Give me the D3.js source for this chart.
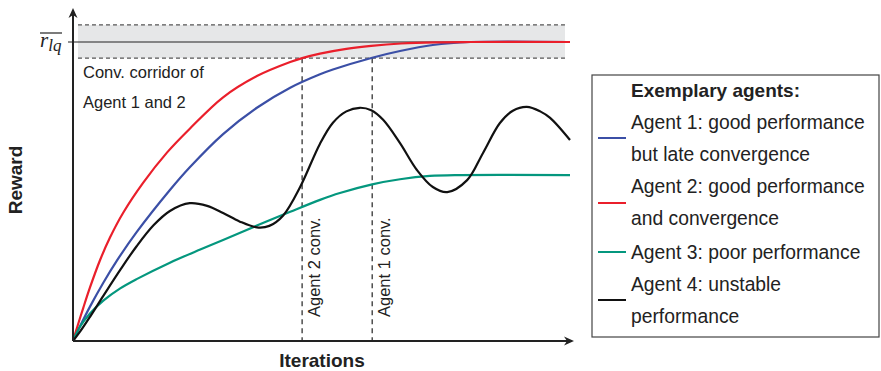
<!DOCTYPE html>
<html>
<head>
<meta charset="utf-8">
<script src="https://cdn.jsdelivr.net/npm/d3@7"></script>
<style>
  body { margin: 0; background: #fff; }
  svg { display: block; font-family: "Liberation Sans", Arial, sans-serif; }
</style>
</head>
<body>
<div class="chart"></div>
<script>
// data: x = iterations (0..100), y = reward (r_lq = 100)
var agent1 = [[0,0],[1.41,4.9],[3.42,11.5],[6.1,19.5],[8.8,26.8],[12.8,36.4],[19.5,50.5],[23.5,58.1],
  [30.2,69.2],[37,78],[43.7,84.7],[49.7,89.2],[52.3,90.8],[60.2,94.75],[65.8,97],[72.4,99],
  [79.9,100],[100,100]];
var agent2 = [[0,0],[0.74,4.1],[2.07,11.1],[3.42,17.9],[5.43,27],[7.44,34.6],[10.1,42.9],[14.1,52.9],
  [18.9,63],[23.5,71],[30.2,81.5],[37,88.6],[43.7,93.3],[46.1,94.6],[49.7,96.1],[55,97.7],
  [60,98.7],[66,99.5],[73,99.9],[80,100],[100,100]];
var agent3 = [[0,0],[1.41,4.8],[3.42,9.2],[6.1,13.5],[9.5,17.6],[12.8,20.7],[19.5,26.2],[25.6,30.6],
  [30.2,33.8],[37,38.6],[43.7,43.2],[49.7,47.2],[53.7,49.5],[60.2,52.4],[65.8,54.1],[71.8,55.2],
  [77.9,55.5],[100,55.5]];
var agent4 = [[0,0],[1.41,3.1],[3.42,8.1],[6.1,15.1],[9.5,23.8],[12.8,31.7],[16.2,38.7],[19.5,43.5],
  [23.5,46.1],[27,45.2],[30.2,42.8],[33.5,40],[37,38],[39.5,38.5],[42.3,42],[45.7,51.5],[49.7,66],
  [52.3,73],[55,76.8],[57.7,78],[60,77.2],[62.4,74],[65.8,66.2],[69.2,57.2],[72.4,51.5],[75.3,49.8],
  [79.3,53.8],[82.5,62.9],[85.9,72.9],[88.5,77],[91.3,78.3],[94,76.8],[96,74.6],[100,67.2]];

var rlq = 100;
var corridor = [94.6, 105.7];
var convAgent2 = 46.1, convAgent1 = 60.2;

var series = [
  {name: "agent1", values: agent1, color: "#3b4fa6"},
  {name: "agent2", values: agent2, color: "#ea1f2b"},
  {name: "agent3", values: agent3, color: "#04977e"},
  {name: "agent4", values: agent4, color: "#111111"}
];

var legendTitle = "Exemplary agents:";
var legendLines = ["Agent 1: good performance", "but late convergence",
  "Agent 2: good performance", "and convergence",
  "Agent 3: poor performance", "Agent 4: unstable", "performance"];
var legendColors = ["#3b4fa6", "#ea1f2b", "#04977e", "#111111"];

var width = 881, height = 371;

var svg = d3.select(".chart").append("svg")
    .attr("width", width)
    .attr("height", height);

var x = d3.scaleLinear().domain([0, 100]).range([73, 570]);
var y = d3.scaleLinear().domain([0, 100]).range([341, 42]);

var defs = svg.append("defs");
defs.append("marker")
    .attr("id", "arrow")
    .attr("viewBox", "0 0 10 10")
    .attr("refX", 8).attr("refY", 5)
    .attr("markerWidth", 5).attr("markerHeight", 5)
    .attr("markerUnits", "strokeWidth")
    .attr("orient", "auto")
  .append("path")
    .attr("d", "M0,0.5 L10,5 L0,9.5 L3,5 Z")
    .attr("fill", "#222");

// corridor band
svg.append("rect")
    .attr("x", x(1)).attr("y", y(corridor[1]))
    .attr("width", x(99) - x(1))
    .attr("height", y(corridor[0]) - y(corridor[1]))
    .attr("fill", "#e6e7e8");

svg.selectAll(".corr")
    .data(corridor)
    .enter().append("line")
    .attr("x1", x(1)).attr("x2", x(99))
    .attr("y1", function(d) { return y(d); })
    .attr("y2", function(d) { return y(d); })
    .attr("stroke", "#555")
    .attr("stroke-width", 1.3)
    .attr("stroke-dasharray", "4,3");

svg.append("line")
    .attr("x1", x(0) - 5).attr("x2", x(100))
    .attr("y1", y(rlq)).attr("y2", y(rlq))
    .attr("stroke", "#222").attr("stroke-width", 1.2);

// convergence markers
var conv = [{x: convAgent2, label: "Agent 2 conv."}, {x: convAgent1, label: "Agent 1 conv."}];
svg.selectAll(".conv")
    .data(conv)
    .enter().append("line")
    .attr("x1", function(d) { return x(d.x); })
    .attr("x2", function(d) { return x(d.x); })
    .attr("y1", y(corridor[0])).attr("y2", y(0))
    .attr("stroke", "#333")
    .attr("stroke-width", 1.3)
    .attr("stroke-dasharray", "5,4");

svg.selectAll(".convlabel")
    .data(conv)
    .enter().append("text")
    .attr("transform", function(d) { return "translate(" + (x(d.x) + 18) + "," + 317 + ") rotate(-90)"; })
    .attr("font-size", 16.5)
    .attr("fill", "#222")
    .text(function(d) { return d.label; });

svg.append("text").attr("x", 83).attr("y", 78).attr("font-size", 16.5).attr("fill", "#222")
    .text("Conv. corridor of");
svg.append("text").attr("x", 83).attr("y", 108).attr("font-size", 16.5).attr("fill", "#222")
    .text("Agent 1 and 2");

// curves
var line = d3.line()
    .x(function(d) { return x(d[0]); })
    .y(function(d) { return y(d[1]); })
    .curve(d3.curveCatmullRom.alpha(0.5));

svg.selectAll(".agent")
    .data(series)
    .enter().append("path")
    .attr("d", function(d) { return line(d.values); })
    .attr("fill", "none")
    .attr("stroke", function(d) { return d.color; })
    .attr("stroke-width", 2.2);

// axes
svg.append("line")
    .attr("x1", x(0)).attr("y1", y(0))
    .attr("x2", x(0)).attr("y2", 10)
    .attr("stroke", "#222").attr("stroke-width", 2)
    .attr("marker-end", "url(#arrow)");
svg.append("line")
    .attr("x1", x(0)).attr("y1", y(0))
    .attr("x2", 572).attr("y2", y(0))
    .attr("stroke", "#222").attr("stroke-width", 2)
    .attr("marker-end", "url(#arrow)");

// r_lq label
var rl = svg.append("text")
    .attr("x", 40).attr("y", 47)
    .attr("font-family", "'Liberation Serif', 'DejaVu Serif', serif")
    .attr("font-style", "italic")
    .attr("font-size", 21)
    .attr("fill", "#222");
rl.append("tspan").text("r");
rl.append("tspan").attr("dy", 4).attr("font-size", 17).text("lq");
svg.append("line")
    .attr("x1", 40).attr("x2", 62)
    .attr("y1", 33).attr("y2", 33)
    .attr("stroke", "#222").attr("stroke-width", 1.2);

// axis titles
svg.append("text")
    .attr("transform", "translate(22,180) rotate(-90)")
    .attr("text-anchor", "middle")
    .attr("font-weight", "bold")
    .attr("font-size", 19)
    .attr("fill", "#222")
    .text("Reward");
svg.append("text")
    .attr("x", 322).attr("y", 367)
    .attr("text-anchor", "middle")
    .attr("font-weight", "bold")
    .attr("font-size", 19)
    .attr("fill", "#222")
    .text("Iterations");

// legend
var legend = svg.append("g");
legend.append("rect")
    .attr("x", 592).attr("y", 75)
    .attr("width", 287).attr("height", 262)
    .attr("fill", "#fff").attr("stroke", "#444").attr("stroke-width", 1.2);
legend.append("text")
    .attr("x", 631).attr("y", 97)
    .attr("font-weight", "bold").attr("font-size", 19).attr("fill", "#222")
    .text(legendTitle);
var baselines = [129, 161, 193, 225, 259, 291, 323];
legend.selectAll(".lt")
    .data(legendLines)
    .enter().append("text")
    .attr("x", 631)
    .attr("y", function(d, i) { return baselines[i]; })
    .attr("font-size", 19.3).attr("fill", "#222")
    .text(function(d) { return d; });
var sampleY = [138, 203, 252, 300];
legend.selectAll(".ls")
    .data(legendColors)
    .enter().append("line")
    .attr("x1", 598).attr("x2", 626)
    .attr("y1", function(d, i) { return sampleY[i]; })
    .attr("y2", function(d, i) { return sampleY[i]; })
    .attr("stroke", function(d) { return d; })
    .attr("stroke-width", 2);
</script>
</body>
</html>
